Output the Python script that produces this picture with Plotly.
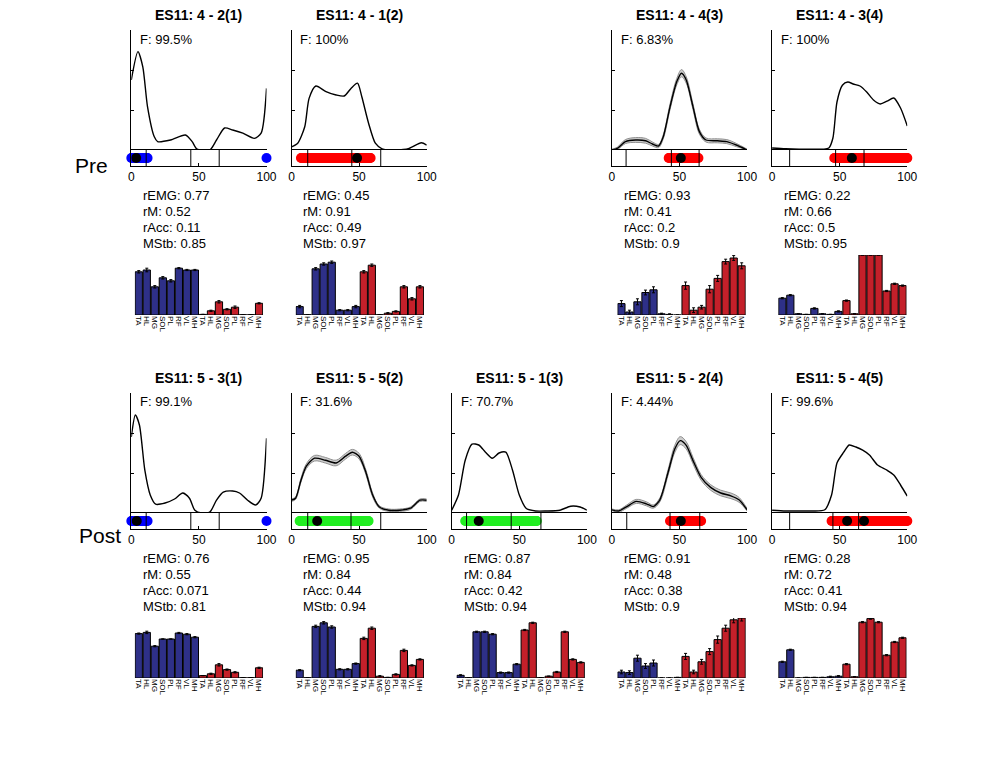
import plotly.graph_objects as go

W, H = 1000, 762
FONT = "Liberation Sans, Arial, sans-serif"

muscles = ["TA", "HL", "MG", "SOL", "PL", "RF", "VL", "MH"]
bar_labels = muscles + muscles

row_names = ["Pre", "Post"]

titles = ["ES11: 4 - 2(1)", "ES11: 4 - 1(2)", "ES11: 4 - 4(3)", "ES11: 4 - 3(4)",
          "ES11: 5 - 3(1)", "ES11: 5 - 5(2)", "ES11: 5 - 1(3)", "ES11: 5 - 2(4)", "ES11: 5 - 4(5)"]
f_text = ["99.5%", "100%", "6.83%", "100%", "99.1%", "31.6%", "70.7%", "4.44%", "99.6%"]
r_emg = ["0.77", "0.45", "0.93", "0.22", "0.76", "0.95", "0.87", "0.91", "0.28"]
r_m = ["0.52", "0.91", "0.41", "0.66", "0.55", "0.84", "0.84", "0.48", "0.72"]
r_acc = ["0.11", "0.49", "0.2", "0.5", "0.071", "0.44", "0.42", "0.38", "0.41"]
m_stb = ["0.85", "0.97", "0.9", "0.95", "0.81", "0.94", "0.94", "0.9", "0.94"]

# ---- activation curves (gait cycle %, amplitude) ----
pre1_x = [0, 4.9, 8.5, 12, 17, 19.5, 29, 40, 45, 48.6, 58, 63, 69, 75, 82.5, 91, 96, 100]
pre1_y = [1.75, 2.46, 2.08, 1.08, 0.33, 0.21, 0.25, 0.375, 0.21, 0.02, 0.0, 0.25, 0.55, 0.5, 0.42, 0.29, 0.42, 1.54]
pre2_x = [0, 4.6, 9.8, 13, 18, 25.5, 33, 39, 44, 48.8, 52, 57, 62, 67, 77, 87, 96, 100]
pre2_y = [0.08, 0.17, 0.58, 1.29, 1.6, 1.46, 1.375, 1.35, 1.54, 1.67, 1.33, 0.67, 0.17, 0.03, 0.0, 0.04, 0.18, 0.12]
pre3_x = [0, 4, 10, 17.6, 25, 30, 34.5, 38, 43, 48, 51.5, 55, 60, 64.7, 69.6, 78, 85, 92, 100]
pre3_y = [0.0, 0.04, 0.21, 0.25, 0.23, 0.15, 0.1, 0.33, 1.08, 1.71, 1.92, 1.75, 1.08, 0.46, 0.25, 0.23, 0.21, 0.125, 0.0]
pre3_sd = [0.02, 0.03, 0.05, 0.06, 0.06, 0.05, 0.04, 0.05, 0.07, 0.08, 0.09, 0.08, 0.07, 0.06, 0.05, 0.05, 0.05, 0.04, 0.02]
pre4_x = [0, 10, 20, 30, 38, 42, 45, 48, 52, 56, 60, 65, 70, 75, 80, 85, 90, 95, 100]
pre4_y = [0.05, 0.03, 0.02, 0.02, 0.02, 0.05, 0.3, 1.2, 1.62, 1.7, 1.65, 1.6, 1.45, 1.25, 1.15, 1.22, 1.3, 1.05, 0.6]

post1_x = [0, 3, 6, 10, 14, 18, 25, 32, 38, 43, 47, 52, 58, 63, 68, 75, 80, 86, 92, 96, 100]
post1_y = [1.9, 2.45, 2.2, 1.07, 0.45, 0.22, 0.25, 0.35, 0.5, 0.37, 0.07, 0.0, 0.02, 0.32, 0.52, 0.55, 0.5, 0.32, 0.2, 0.37, 1.87]
post2_x = [0, 3, 7, 11, 17, 25, 33, 40, 45, 50, 55, 60, 65, 72, 80, 88, 95, 100]
post2_y = [0.32, 0.37, 0.82, 1.17, 1.37, 1.32, 1.25, 1.42, 1.52, 1.42, 1.02, 0.45, 0.15, 0.07, 0.07, 0.12, 0.32, 0.32]
post2_sd = [0.03, 0.03, 0.05, 0.06, 0.07, 0.07, 0.07, 0.07, 0.07, 0.07, 0.06, 0.05, 0.03, 0.03, 0.03, 0.03, 0.03, 0.03]
post3_x = [0, 5, 10, 15, 20, 25, 30, 35, 40, 45, 50, 55, 62, 70, 80, 88, 95, 100]
post3_y = [0.07, 0.45, 1.32, 1.72, 1.7, 1.52, 1.37, 1.5, 1.52, 1.07, 0.45, 0.12, 0.05, 0.05, 0.07, 0.17, 0.15, 0.07]
post4_x = [0, 5, 11, 18, 25.5, 30.6, 35.5, 41.6, 46.5, 50.6, 55, 60, 66, 73, 80.5, 88, 94, 100]
post4_y = [0.08, 0.05, 0.16, 0.29, 0.23, 0.16, 0.33, 1.02, 1.6, 1.81, 1.69, 1.31, 0.89, 0.64, 0.5, 0.43, 0.33, 0.08]
post4_sd = [0.02, 0.03, 0.04, 0.05, 0.05, 0.04, 0.05, 0.07, 0.09, 0.1, 0.09, 0.08, 0.07, 0.07, 0.07, 0.07, 0.06, 0.03]
post5_x = [0, 10, 20, 30, 39, 44, 48, 53, 57, 62, 67, 72, 78, 85, 90, 95, 100]
post5_y = [0.07, 0.05, 0.05, 0.05, 0.08, 0.45, 1.25, 1.52, 1.7, 1.65, 1.57, 1.45, 1.2, 1.07, 0.95, 0.7, 0.42]

# ---- phase strip: coloured segments, black dots, gait events ----
seg_pre1 = [(0, 12), (100, 100)]
seg_pre2 = [(7, 58.5)]
seg_pre3 = [(42, 64)]
seg_pre4 = [(46, 100)]
seg_post1 = [(0, 12), (100, 100)]
seg_post2 = [(6, 57)]
seg_post3 = [(10, 63)]
seg_post4 = [(43, 66)]
seg_post5 = [(44, 100)]
dot_pre = [[3.6], [48.5], [51], [59]]
dot_post = [[4], [19], [20], [51], [55.5, 68]]
events_pre = [[11, 44, 65], [12, 44.6, 66], [10.5, 44, 64.5], [13, 47, 68]]
events_post = [[11, 44, 65], [12, 44, 66], [11, 44, 66], [11, 43, 65], [13, 45, 64]]
seg_colors = ["#0000ff", "#ff0000", "#ff0000", "#ff0000",
              "#0000ff", "#22ee22", "#22ee22", "#ff0000", "#ff0000"]

# ---- muscle weights (first 8: one leg, last 8: other leg) ----
bars_pre1 = [0.72, 0.75, 0.47, 0.62, 0.57, 0.78, 0.75, 0.75, 0.01, 0.07, 0.22, 0.095, 0.13, 0.005, 0.005, 0.195]
err_pre1 = [0.02, 0.03, 0.02, 0.02, 0.02, 0.01, 0.01, 0.01, 0.0, 0.01, 0.02, 0.01, 0.02, 0.0, 0.0, 0.01]
bars_pre2 = [0.14, 0.005, 0.77, 0.85, 0.88, 0.08, 0.08, 0.14, 0.72, 0.83, 0.005, 0.03, 0.06, 0.47, 0.27, 0.47]
err_pre2 = [0.02, 0.0, 0.02, 0.02, 0.02, 0.01, 0.01, 0.02, 0.02, 0.02, 0.0, 0.01, 0.01, 0.02, 0.02, 0.02]
bars_pre3 = [0.19, 0.05, 0.22, 0.375, 0.42, 0.02, 0.01, 0.0, 0.49, 0.08, 0.13, 0.43, 0.61, 0.89, 0.95, 0.82]
err_pre3 = [0.05, 0.03, 0.05, 0.04, 0.05, 0.01, 0.01, 0.0, 0.06, 0.04, 0.03, 0.06, 0.05, 0.04, 0.04, 0.05]
bars_pre4 = [0.28, 0.33, 0.02, 0.01, 0.11, 0.02, 0.01, 0.06, 0.24, 0.02, 1.0, 1.0, 1.0, 0.4, 0.52, 0.49]
err_pre4 = [0.01, 0.01, 0.0, 0.0, 0.01, 0.0, 0.0, 0.01, 0.01, 0.0, 0.0, 0.0, 0.0, 0.01, 0.01, 0.01]
bars_post1 = [0.74, 0.76, 0.53, 0.65, 0.65, 0.75, 0.73, 0.68, 0.04, 0.07, 0.22, 0.14, 0.095, 0.005, 0.005, 0.17]
err_post1 = [0.01, 0.02, 0.01, 0.0, 0.0, 0.01, 0.01, 0.01, 0.0, 0.01, 0.02, 0.01, 0.01, 0.0, 0.0, 0.01]
bars_post2 = [0.13, 0.005, 0.86, 0.92, 0.85, 0.145, 0.145, 0.24, 0.66, 0.83, 0.03, 0.01, 0.06, 0.46, 0.21, 0.31]
err_post2 = [0.01, 0.0, 0.02, 0.02, 0.02, 0.01, 0.01, 0.01, 0.02, 0.02, 0.01, 0.0, 0.01, 0.02, 0.01, 0.01]
bars_post3 = [0.045, 0.005, 0.77, 0.77, 0.73, 0.09, 0.09, 0.23, 0.8, 0.92, 0.005, 0.03, 0.1, 0.77, 0.31, 0.26]
err_post3 = [0.01, 0.0, 0.01, 0.01, 0.01, 0.01, 0.01, 0.01, 0.01, 0.01, 0.0, 0.0, 0.01, 0.01, 0.01, 0.01]
bars_post4 = [0.1, 0.09, 0.33, 0.2, 0.25, 0.0, 0.0, 0.01, 0.36, 0.1, 0.27, 0.44, 0.64, 0.83, 0.97, 1.0]
err_post4 = [0.03, 0.03, 0.05, 0.04, 0.05, 0.0, 0.0, 0.0, 0.05, 0.03, 0.04, 0.05, 0.06, 0.05, 0.05, 0.05]
bars_post5 = [0.27, 0.47, 0.0, 0.01, 0.01, 0.01, 0.02, 0.03, 0.23, 0.02, 0.93, 0.99, 0.93, 0.38, 0.6, 0.67]
err_post5 = [0.01, 0.01, 0.0, 0.0, 0.0, 0.0, 0.01, 0.01, 0.01, 0.0, 0.01, 0.01, 0.01, 0.01, 0.01, 0.01]

# ---- assemble panels (row, col) ----
panels = [
    (0, 0, pre1_x, pre1_y, None, seg_pre1, dot_pre[0], events_pre[0], bars_pre1, err_pre1),
    (0, 1, pre2_x, pre2_y, None, seg_pre2, dot_pre[1], events_pre[1], bars_pre2, err_pre2),
    (0, 3, pre3_x, pre3_y, pre3_sd, seg_pre3, dot_pre[2], events_pre[2], bars_pre3, err_pre3),
    (0, 4, pre4_x, pre4_y, None, seg_pre4, dot_pre[3], events_pre[3], bars_pre4, err_pre4),
    (1, 0, post1_x, post1_y, None, seg_post1, dot_post[0], events_post[0], bars_post1, err_post1),
    (1, 1, post2_x, post2_y, post2_sd, seg_post2, dot_post[1], events_post[1], bars_post2, err_post2),
    (1, 2, post3_x, post3_y, None, seg_post3, dot_post[2], events_post[2], bars_post3, err_post3),
    (1, 3, post4_x, post4_y, post4_sd, seg_post4, dot_post[3], events_post[3], bars_post4, err_post4),
    (1, 4, post5_x, post5_y, None, seg_post5, dot_post[4], events_post[4], bars_post5, err_post5),
]

BLUE_BAR = "#2e3088"
RED_BAR = "#c4202a"


def px(x):
    return x / W


def py(y):
    return 1 - y / H


fig = go.Figure()
layout = {}
annotations = []

for i, (row, col, cx, cy, sd, segs, dots, events, bars, errs) in enumerate(panels):
    dy = 0 if row == 0 else 363
    xL = 130 + 162.3 * col
    xR = xL + 137
    xb0 = 133.5 + 163 * col
    xb1 = xb0 + 130
    a1, a2, a3 = 3 * i + 1, 3 * i + 2, 3 * i + 3

    def nm(k, axis):
        return axis if k == 1 else f"{axis}{k}"

    # line plot axes
    layout[nm(a1, "xaxis")] = dict(domain=[px(xL), px(xR)], range=[0, 100], visible=False,
                                   anchor=nm(a1, "y"))
    layout[nm(a1, "yaxis")] = dict(domain=[py(150 + dy), py(30 + dy)], range=[0, 3],
                                   showline=True, linecolor="black", linewidth=1,
                                   ticks="inside", ticklen=3, tickcolor="black",
                                   tickvals=[0, 1, 2, 3], showticklabels=False,
                                   showgrid=False, zeroline=False, anchor=nm(a1, "x"))
    # strip axes
    layout[nm(a2, "xaxis")] = dict(domain=[px(xL), px(xR)], range=[0, 100],
                                   showline=True, mirror=True, linecolor="black", linewidth=1,
                                   ticks="inside", ticklen=3, tickcolor="black",
                                   tickvals=[0, 50, 100], tickfont=dict(size=12, color="black", family=FONT),
                                   showgrid=False, zeroline=False, anchor=nm(a2, "y"))
    layout[nm(a2, "yaxis")] = dict(domain=[py(166 + dy), py(150 + dy)], range=[0, 1],
                                   showline=True, linecolor="black", linewidth=1,
                                   showticklabels=False, ticks="", showgrid=False,
                                   zeroline=False, anchor=nm(a2, "x"))
    # bar axes
    layout[nm(a3, "xaxis")] = dict(domain=[px(xb0), px(xb1)], range=[-0.5, 15.5],
                                   tickvals=list(range(16)), ticktext=bar_labels, tickangle=90,
                                   tickfont=dict(size=8, color="black", family=FONT),
                                   showline=False, ticks="", showgrid=False, zeroline=False,
                                   anchor=nm(a3, "y"))
    layout[nm(a3, "yaxis")] = dict(domain=[py(315 + dy), py(255 + dy)], range=[0, 1.0],
                                   visible=False, anchor=nm(a3, "x"))

    xa1, ya1 = nm(a1, "x"), nm(a1, "y")
    xa2, ya2 = nm(a2, "x"), nm(a2, "y")
    xa3, ya3 = nm(a3, "x"), nm(a3, "y")

    # std band
    if sd is not None:
        up = [v + s for v, s in zip(cy, sd)]
        lo = [max(v - s, 0) for v, s in zip(cy, sd)]
        fig.add_trace(go.Scatter(x=cx, y=up, mode="lines", line=dict(color="#909090", width=1, shape="spline"),
                                 xaxis=xa1, yaxis=ya1, hoverinfo="skip"))
        fig.add_trace(go.Scatter(x=cx, y=lo, mode="lines", line=dict(color="#909090", width=1, shape="spline"),
                                 fill="tonexty", fillcolor="rgba(170,170,170,0.6)",
                                 xaxis=xa1, yaxis=ya1, hoverinfo="skip"))
    fig.add_trace(go.Scatter(x=cx, y=cy, mode="lines",
                             line=dict(color="black", width=1.4, shape="spline", smoothing=0.7),
                             xaxis=xa1, yaxis=ya1))

    # strip: coloured segment of dots
    for (s0, s1) in segs:
        xs = [s0 + k * 0.5 for k in range(int((s1 - s0) / 0.5) + 1)]
        fig.add_trace(go.Scatter(x=xs, y=[0.5] * len(xs), mode="markers",
                                 marker=dict(color=seg_colors[i], size=10, line=dict(width=0)),
                                 xaxis=xa2, yaxis=ya2, cliponaxis=False))
    for e in events:
        fig.add_trace(go.Scatter(x=[e, e], y=[0, 1], mode="lines", line=dict(color="black", width=1),
                                 xaxis=xa2, yaxis=ya2))
    fig.add_trace(go.Scatter(x=dots, y=[0.5] * len(dots), mode="markers",
                             marker=dict(color="black", size=10),
                             xaxis=xa2, yaxis=ya2))

    # bars
    fig.add_trace(go.Bar(x=list(range(8)), y=bars[:8], width=0.9,
                         marker=dict(color=BLUE_BAR, line=dict(color="black", width=1)),
                         error_y=dict(type="data", array=errs[:8], color="black", thickness=1, width=1.5),
                         xaxis=xa3, yaxis=ya3))
    fig.add_trace(go.Bar(x=list(range(8, 16)), y=bars[8:], width=0.9,
                         marker=dict(color=RED_BAR, line=dict(color="black", width=1)),
                         error_y=dict(type="data", array=errs[8:], color="black", thickness=1, width=1.5),
                         xaxis=xa3, yaxis=ya3))

    # texts
    annotations.append(dict(x=px((xL + xR) / 2), y=py(15 + dy), text="<b>" + titles[i] + "</b>",
                            xref="paper", yref="paper",
                            showarrow=False, xanchor="center", yanchor="middle",
                            font=dict(size=14, color="black", family=FONT)))
    annotations.append(dict(x=px(xL + 7), y=py(39 + dy), text="F: " + f_text[i],
                            xref="paper", yref="paper",
                            showarrow=False, xanchor="left", yanchor="middle",
                            font=dict(size=13, color="black", family=FONT)))
    stats = [("rEMG: ", r_emg[i]), ("rM: ", r_m[i]), ("rAcc: ", r_acc[i]), ("MStb: ", m_stb[i])]
    for k, (lab, val) in enumerate(stats):
        annotations.append(dict(x=px(xL + 10), y=py(195 + dy + 16 * k), text=lab + val,
                                xref="paper", yref="paper",
                                showarrow=False, xanchor="left", yanchor="middle",
                                font=dict(size=13, color="black", family=FONT)))

annotations.append(dict(x=px(90), y=py(165), text=row_names[0], showarrow=False,
                        xref="paper", yref="paper",
                        xanchor="center", yanchor="middle", font=dict(size=21, color="black", family=FONT)))
annotations.append(dict(x=px(98), y=py(535), text=row_names[1], showarrow=False,
                        xref="paper", yref="paper",
                        xanchor="center", yanchor="middle", font=dict(size=21, color="black", family=FONT)))

fig.update_layout(**layout)
fig.update_layout(annotations=annotations, width=W, height=H, showlegend=False,
                  margin=dict(l=0, r=0, t=0, b=0), paper_bgcolor="white", plot_bgcolor="rgba(0,0,0,0)",
                  barmode="overlay", font=dict(family=FONT, color="black"))

fig.write_html("out.html", config={"responsive": False, "displayModeBar": False},
               post_script="document.body.style.margin='0px';document.body.style.overflow='hidden';")
